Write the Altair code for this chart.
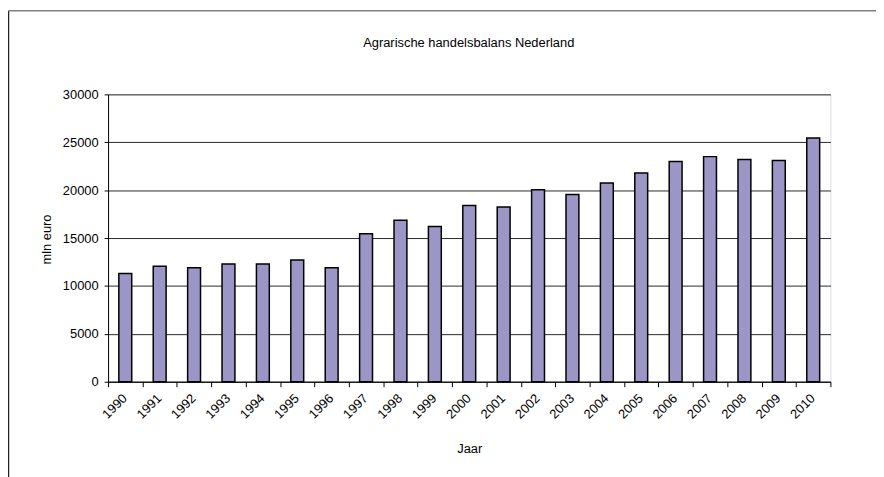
import altair as alt
import pandas as pd

years = [str(y) for y in range(1990, 2011)]
values = [11300, 12050, 11900, 12300, 12300, 12700, 11900, 15450, 16850, 16200,
          18400, 18250, 20050, 19550, 20750, 21800, 23000, 23500, 23200, 23100, 25450]
y_ticks = [0, 5000, 10000, 15000, 20000, 25000, 30000]

title_text = "Agrarische handelsbalans Nederland"
x_title = "Jaar"
y_title = "mln euro"

df = pd.DataFrame({"year": years, "value": values})
FONT = "Liberation Sans"
FS = 13

bars = alt.Chart(df).mark_bar(
    size=13, fill="#9C96C6", stroke="#000000", strokeWidth=1.5
).encode(
    x=alt.X("year:O", sort=years,
            scale=alt.Scale(paddingInner=0, paddingOuter=0),
            axis=alt.Axis(title=x_title, labelAngle=-45, labelAlign="right",
                          labelBaseline="top", labelFont=FONT, labelFontSize=FS,
                          labelColor="#000", labelPadding=5, labelOffset=-5,
                          tickBand="extent", tickSize=5, tickColor="#000",
                          domainColor="#000", domainWidth=1,
                          titleFont=FONT, titleFontSize=FS, titleFontWeight="normal",
                          titleColor="#000", titleY=67, titleBaseline="middle",
                          grid=False)),
    y=alt.Y("value:Q", scale=alt.Scale(domain=[0, 30000], nice=False),
            axis=alt.Axis(title=y_title, values=y_ticks, format="d",
                          labelFont=FONT, labelFontSize=FS, labelColor="#000",
                          labelPadding=6, tickSize=4, tickColor="#000",
                          domainColor="#000", domainWidth=1,
                          grid=True, gridColor="#111", gridWidth=1, gridOpacity=0.9,
                          titleFont=FONT, titleFontSize=FS, titleFontWeight="normal",
                          titleColor="#000", titleAngle=270, titleX=-62, titleY=146,
                          titleAlign="center", titleBaseline="middle")),
)

one = pd.DataFrame({"k": [0]})
left_frame = alt.Chart(one).mark_rule(color="#222222", strokeWidth=1.5).encode(
    x=alt.value(-100.5), y=alt.value(-84.5), y2=alt.value(400))
top_frame = alt.Chart(one).mark_rule(color="#808080", strokeWidth=1.5).encode(
    x=alt.value(-100.5), x2=alt.value(900), y=alt.value(-84.5))
title_mark = alt.Chart(one).mark_text(
    text=title_text, font=FONT, fontSize=FS, color="#000",
    align="center", baseline="middle"
).encode(x=alt.value(364), y=alt.value(-52))

chart = alt.layer(bars, left_frame, top_frame, title_mark).properties(
    width=729, height=290,
    padding={"left": 101, "top": 85, "right": 46, "bottom": 94},
    autosize=alt.AutoSizeParams(type="none"),
).configure_view(
    fill="#C0C0C0", stroke="#808080", strokeWidth=1
).configure(background="white")

chart.save("out.html", embed_options={"renderer": "svg", "actions": False})
